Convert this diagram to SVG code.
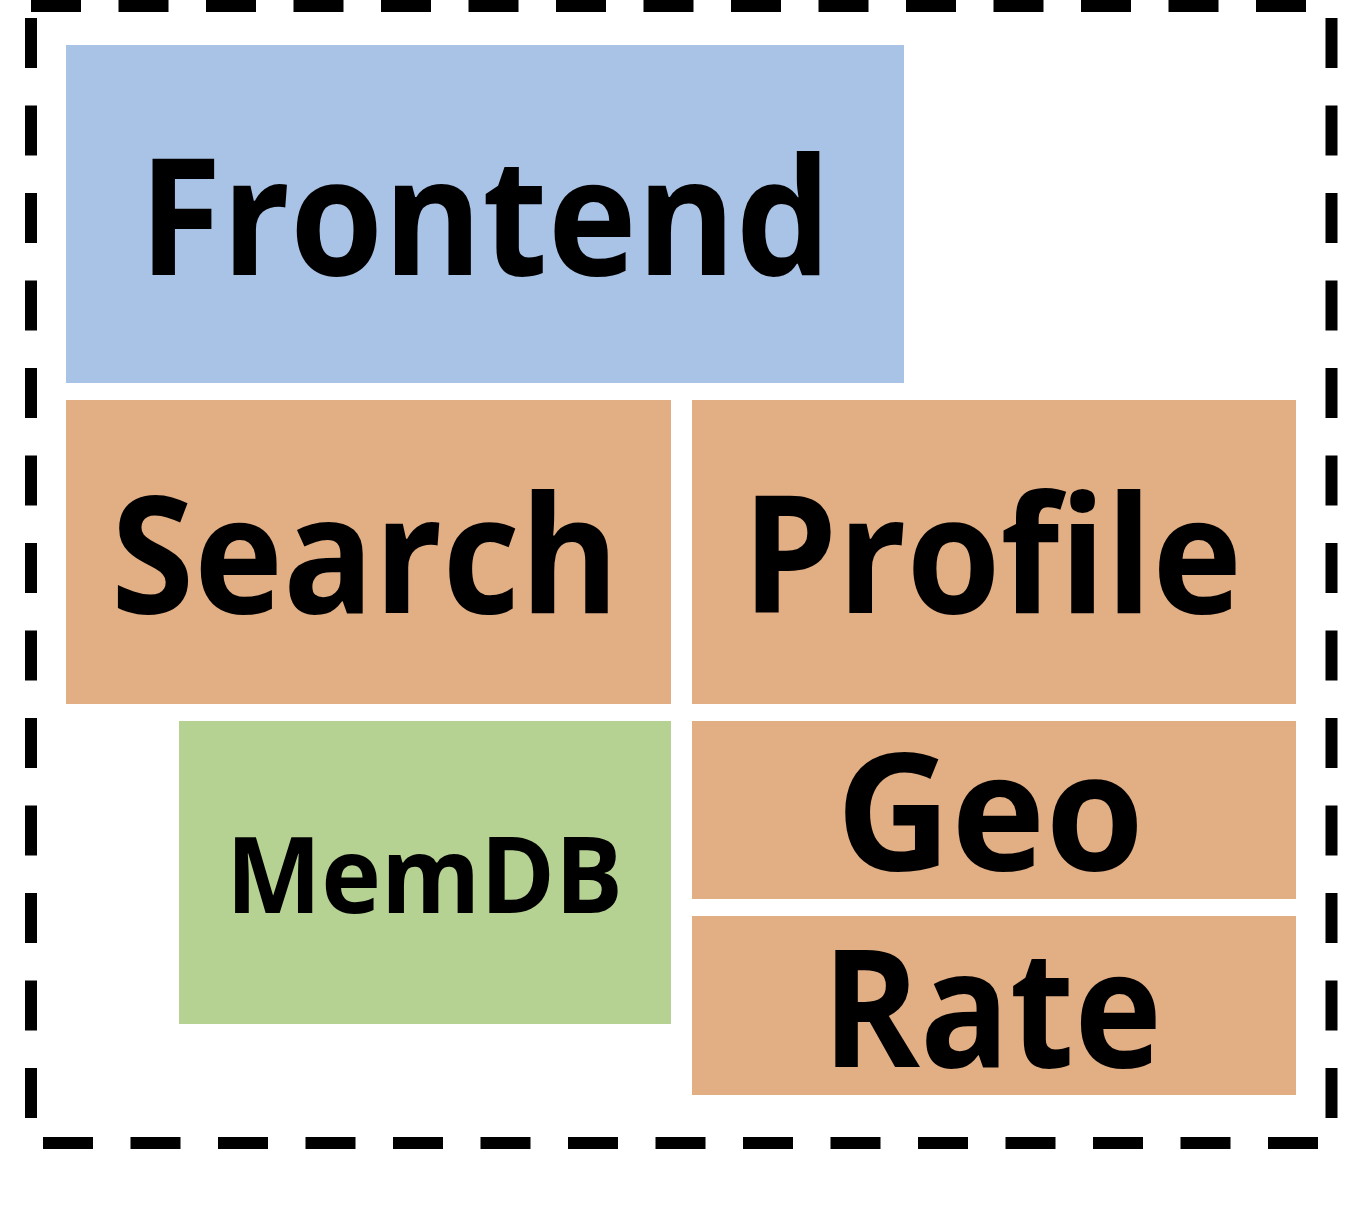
<svg xmlns="http://www.w3.org/2000/svg" width="1354" height="1229" viewBox="0 0 1354 1229">
<style>
.b{stroke:#000;stroke-width:12;stroke-dasharray:50 37.5;fill:none}
.blue{fill:#A9C3E6}
.orange{fill:#E2AF84}
.green{fill:#B5D292}
text{font-family:"Open Sans","Noto Sans","Liberation Sans",sans-serif;font-weight:bold;fill:#000}
.big{font-size:164px}
.small{font-size:105px}
</style>
<rect width="1354" height="1229" fill="#fff"/>
<g id="border">
<line class="b" x1="31" y1="6" x2="1306" y2="6"/>
<line class="b" x1="31" y1="18" x2="31" y2="1118"/>
<line class="b" x1="1331.5" y1="18" x2="1331.5" y2="1118"/>
<line class="b" x1="43" y1="1143" x2="1318" y2="1143"/>
</g>
<g id="frontend">
<rect class="blue" x="66" y="45" width="838" height="338"/>
<text class="big" x="139" y="275" textLength="692" lengthAdjust="spacingAndGlyphs">Frontend</text>
</g>
<g id="search">
<rect class="orange" x="66" y="400" width="605" height="304"/>
<text class="big" x="111" y="613" textLength="508" lengthAdjust="spacingAndGlyphs">Search</text>
</g>
<g id="profile">
<rect class="orange" x="692" y="400" width="604" height="304"/>
<text class="big" x="742" y="613" textLength="500" lengthAdjust="spacingAndGlyphs">Profile</text>
</g>
<g id="memdb">
<rect class="green" x="179" y="721" width="492" height="303"/>
<text class="small" x="226" y="913" textLength="397" lengthAdjust="spacingAndGlyphs">MemDB</text>
</g>
<g id="geo">
<rect class="orange" x="692" y="721" width="604" height="178"/>
<text class="big" x="836" y="870" textLength="308" lengthAdjust="spacingAndGlyphs">Geo</text>
</g>
<g id="rate">
<rect class="orange" x="692" y="916" width="604" height="179"/>
<text class="big" x="822" y="1067" textLength="340" lengthAdjust="spacingAndGlyphs">Rate</text>
</g>
<g id="connectors"></g>
</svg>
